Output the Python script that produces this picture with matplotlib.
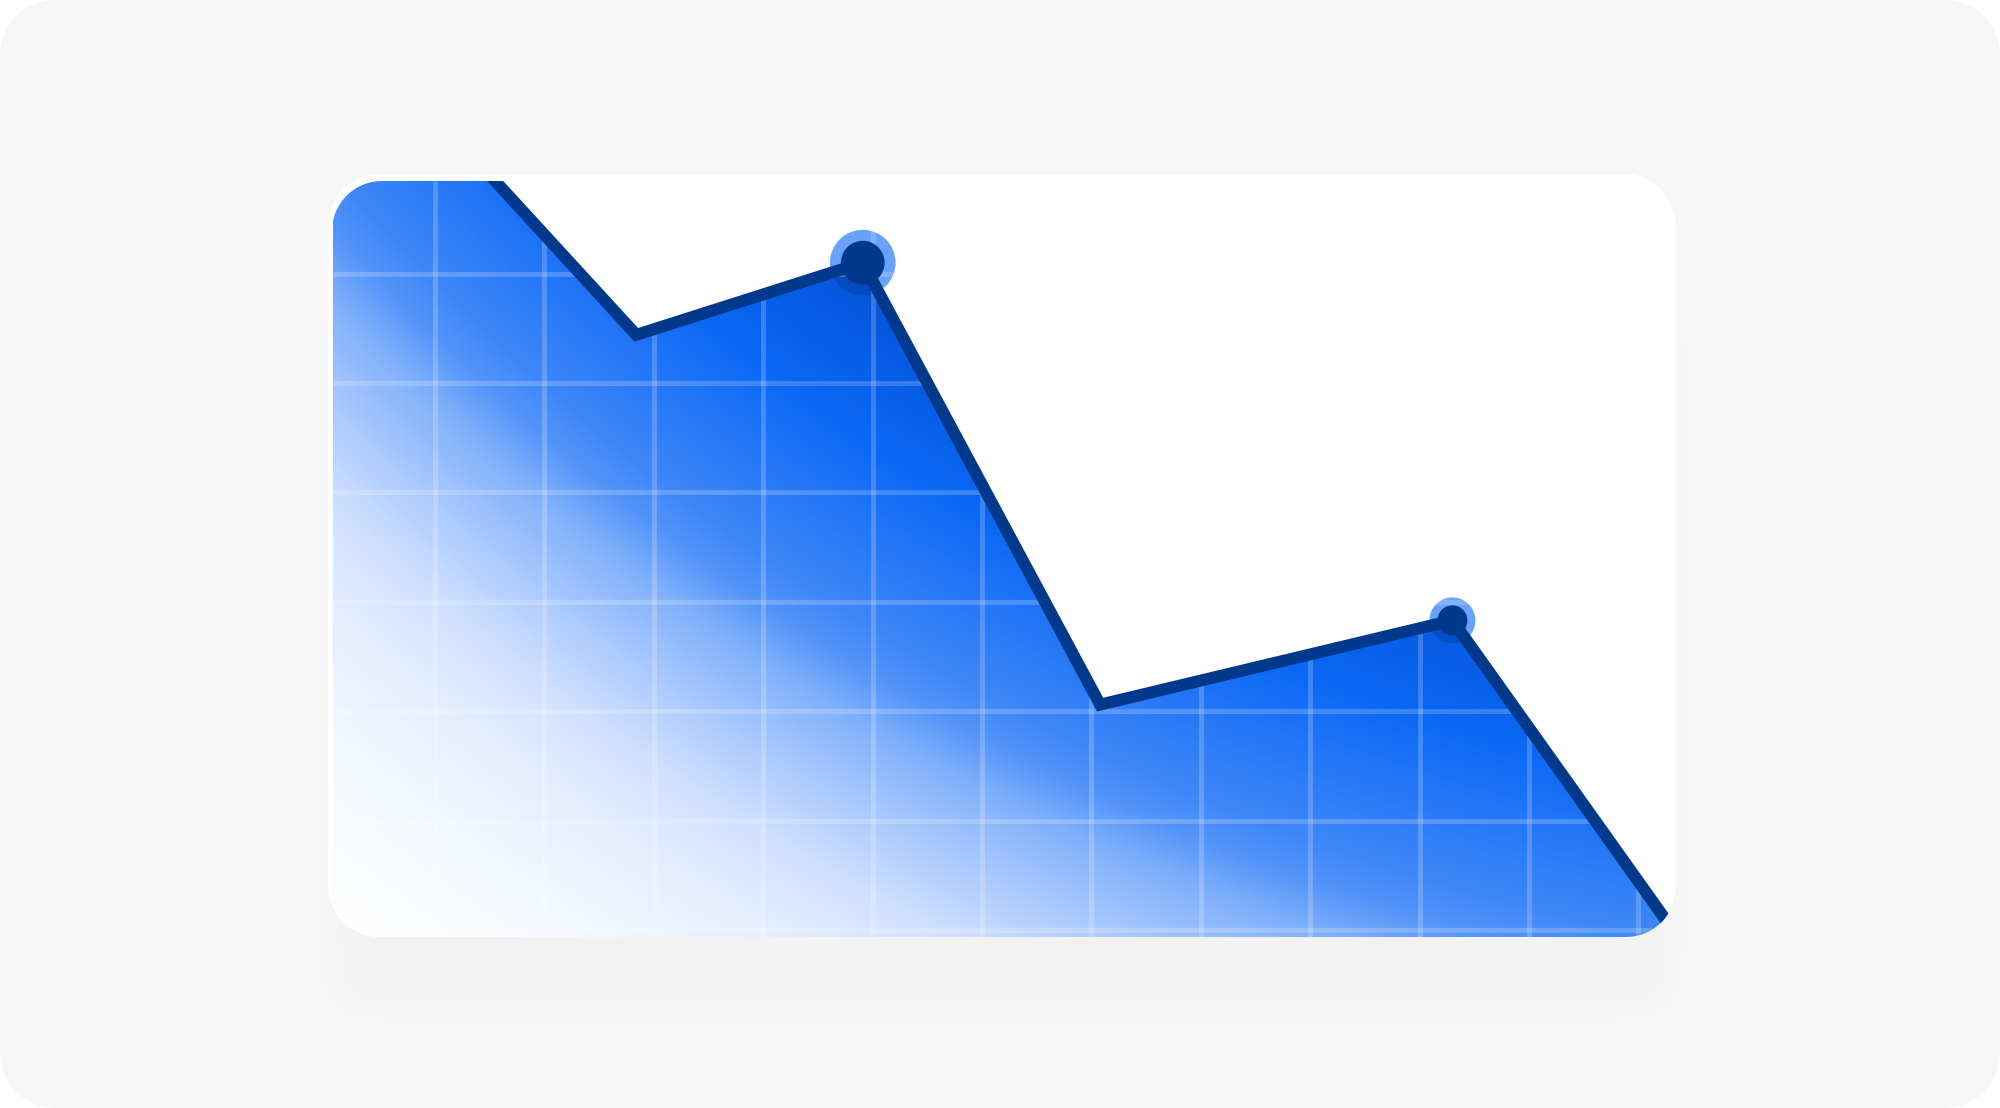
import numpy as np
import matplotlib
matplotlib.use('Agg')
import matplotlib.pyplot as plt
from matplotlib.patches import PathPatch, Circle
from matplotlib.path import Path
from matplotlib.colors import to_rgb

# 数据: 以网格为单位 (一格 = 1)
x_vals = [-0.94, 1.84, 3.91, 6.08, 9.30, 11.38]
y_vals = [8.47, 5.44, 6.10, 2.06, 2.83, -0.09]
highlight_idx = [2, 4]          # 带圆点的两个点
grid_x = list(range(0, 12))
grid_y = list(range(0, 7))

# 版式 (像素)
W, H = 2000, 1108
px_per = 109.4                 # 每格像素
gx0, gy0 = 435, 930            # 网格原点像素位置
L, R, T, B = 332, 1676, 181, 937

line_color = '#00388c'
ring_color = '#67a2fc'
ring_r = [0.30, 0.21]
inner_r = [0.20, 0.137]

# 径向渐变 (圆心在右上方很远处, 按像素距离取色)
grad_center = (2103, -1366)
grad_d = [1980, 2070, 2190, 2280, 2345, 2385, 2430, 2500, 2575, 2655, 2730, 2810, 2900]
grad_c = ['#034cc8', '#0656dc', '#0a68f5', '#2a7af7', '#3f87f8', '#5595f9', '#80b0fb',
          '#a8c8fd', '#cfe0ff', '#e4eeff', '#f0f6ff', '#f9fbff', '#ffffff']


def rounded_path(x0, y0, x1, y1, r, n=24):
    pts = []
    for (cx, cy, a0) in [(x1 - r, y1 - r, 0), (x0 + r, y1 - r, 90),
                         (x0 + r, y0 + r, 180), (x1 - r, y0 + r, 270)]:
        a = np.radians(np.linspace(a0, a0 + 90, n))
        pts += list(zip(cx + r * np.cos(a), cy + r * np.sin(a)))
    pts.append(pts[0])
    return Path(pts, closed=True)


def blur1d(a, r, axis):
    pad = [(0, 0), (0, 0)]
    pad[axis] = (r + 1, r)
    c = np.cumsum(np.pad(a, pad, mode='constant'), axis=axis)
    n = a.shape[axis]
    hi = np.take(c, np.arange(2 * r + 1, 2 * r + 1 + n), axis=axis)
    lo = np.take(c, np.arange(0, n), axis=axis)
    return (hi - lo) / (2 * r + 1)


fig = plt.figure(figsize=(20, 11.08), dpi=100, facecolor='white')

bg = fig.add_axes([0, 0, 1, 1])
bg.axis('off')
bg.add_patch(PathPatch(rounded_path(0, 0, W, H, 55), facecolor='#f6f6f6',
                       edgecolor='none', zorder=0))

# 卡片阴影
yy, xx = np.mgrid[0:H, 0:W]
mask = ((xx > 340) & (xx < 1664) & (yy > 300) & (yy < 1000)).astype(float)
for _ in range(3):
    mask = blur1d(blur1d(mask, 20, 0), 20, 1)
shadow = np.zeros((H, W, 4))
shadow[..., 3] = 0.018 * mask
bg.imshow(shadow, extent=(0, W, H, 0), aspect='auto', zorder=1)

bg.add_patch(PathPatch(rounded_path(328, 174, 1676, 937, 52), facecolor='white',
                       edgecolor='none', zorder=2))
bg.set_xlim(0, W)
bg.set_ylim(H, 0)

# 图表区
ax = fig.add_axes([L / W, 1 - B / H, (R - L) / W, (B - T) / H])
x0, x1 = (L - gx0) / px_per, (R - gx0) / px_per
y0, y1 = (gy0 - B) / px_per, (gy0 - T) / px_per
ax.axis('off')
ax.patch.set_alpha(0)

clip = PathPatch(rounded_path(x0, y0, x1, y1, 50 / px_per), facecolor='none', edgecolor='none')
ax.add_patch(clip)

poly = ax.fill_between(x_vals, y_vals, y0 - 1, facecolor='none', edgecolor='none')
poly_path = poly.get_paths()[0]

# 渐变填充
nx, ny = 1344, 756
X, Y = np.meshgrid(np.linspace(x0, x1, nx), np.linspace(y1, y0, ny))
PX = gx0 + X * px_per
PY = gy0 - Y * px_per
d = np.hypot(PX - grad_center[0], PY - grad_center[1])
rgb = np.array([to_rgb(c) for c in grad_c])
img = np.zeros((ny, nx, 4))
for k in range(3):
    img[..., k] = np.interp(d, grad_d, rgb[:, k])
inside = poly_path.contains_points(np.column_stack([X.ravel(), Y.ravel()]))
img[..., 3] = inside.reshape(ny, nx)
im = ax.imshow(img, extent=(x0, x1, y0, y1), origin='upper', aspect='auto',
               interpolation='bilinear', zorder=2)
im.set_clip_path(clip)

# 圆点外圈 (在填充下面), 填充内的部分加深
for n, i in enumerate(highlight_idx):
    ax.add_patch(Circle((x_vals[i], y_vals[i]), ring_r[n], facecolor=ring_color,
                        edgecolor='none', zorder=1))
    sh = Circle((x_vals[i], y_vals[i]), ring_r[n], facecolor=line_color,
                edgecolor='none', alpha=0.35, zorder=3)
    ax.add_patch(sh)
    sh.set_clip_path(poly_path, ax.transData)

# 网格
vl = ax.vlines(grid_x, y0, y1, colors='white', alpha=0.2, lw=3.6, zorder=4)
hl = ax.hlines(grid_y, x0, x1, colors='white', alpha=0.2, lw=3.6, zorder=4)
vl.set_clip_path(clip)
hl.set_clip_path(clip)

ln, = ax.plot(x_vals, y_vals, color=line_color, lw=8.6, solid_joinstyle='miter', zorder=5)
ln.set_clip_path(clip)

for n, i in enumerate(highlight_idx):
    ax.add_patch(Circle((x_vals[i], y_vals[i]), inner_r[n], facecolor=line_color,
                        edgecolor='none', zorder=6))

ax.set_xlim(x0, x1)
ax.set_ylim(y0, y1)

fig.savefig('out.png', dpi=100)
